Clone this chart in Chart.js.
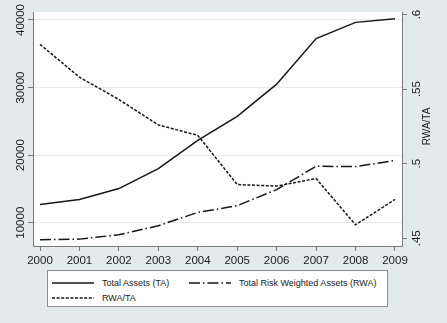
<!DOCTYPE html>
<html>
<head>
<meta charset="utf-8">
<script src="https://cdn.jsdelivr.net/npm/chart.js@4/dist/chart.umd.min.js"></script>
<style>
  body { margin: 0; background: #e2eaec; }
  #wrap { position: relative; width: 447px; height: 323px; }
  #chart { position: absolute; left: 0; top: 0; }
  #legend {
    position: absolute; left: 47px; top: 270px; width: 341px; height: 37px;
    box-sizing: border-box; border: 1px solid #8c8c8c; background: #fff;
    padding: 4px 0 0 4px;
    display: grid; grid-template-columns: 137px auto; grid-auto-rows: 15px;
    font: 9px "Liberation Sans", Arial, sans-serif; color: #1a1a1a;
  }
  #legend .item { display: flex; align-items: center; white-space: nowrap; }
  #legend svg { margin-right: 8px; }
</style>
</head>
<body>
<div id="wrap">
  <canvas id="chart" width="447" height="323"></canvas>
  <div id="legend"></div>
</div>
<script>
// Data
const years = [2000, 2001, 2002, 2003, 2004, 2005, 2006, 2007, 2008, 2009];
const totalAssets = [12700, 13450, 15050, 18000, 22200, 25750, 30500, 37250, 39650, 40200];
const riskWeighted = [7480, 7570, 8220, 9550, 11530, 12520, 14900, 18350, 18300, 19200];
const rwaRatio = [0.580, 0.558, 0.543, 0.526, 0.519, 0.486, 0.485, 0.490, 0.459, 0.476];

const leftTicks = [10000, 20000, 30000, 40000];
const rightTicks = [0.45, 0.5, 0.55, 0.6];
const rightTickLabels = ['.45', '.5', '.55', '.6'];

Chart.defaults.font.family = '"Liberation Sans", Arial, sans-serif';
Chart.defaults.color = '#1a1a1a';

const lineColor = '#161616';
const axisColor = '#7a7a7a';

function points(values) {
    return years.map((yr, i) => ({ x: yr, y: values[i] }));
}

// White plot region and the right axis title (reads bottom to top, like the left labels)
const plotRegion = {
    id: 'plotRegion',
    beforeDraw(chart) {
        const { ctx, chartArea: a } = chart;
        ctx.save();
        ctx.fillStyle = '#ffffff';
        ctx.fillRect(a.left, a.top, a.right - a.left, a.bottom - a.top);
        ctx.restore();
    },
    afterDraw(chart) {
        const ctx = chart.ctx;
        const s = chart.scales.y1;
        ctx.save();
        ctx.translate(s.left + 25, s.getPixelForValue(0.525));
        ctx.rotate(-Math.PI / 2);
        ctx.textAlign = 'center';
        ctx.textBaseline = 'middle';
        ctx.fillStyle = '#1a1a1a';
        ctx.font = '10px "Liberation Sans", Arial, sans-serif';
        ctx.fillText('RWA/TA', 0, 0);
        ctx.restore();
    }
};

const chart = new Chart(document.getElementById('chart'), {
    type: 'line',
    data: {
        datasets: [{
            label: 'Total Assets (TA)',
            data: points(totalAssets),
            yAxisID: 'y',
            borderColor: lineColor,
            borderWidth: 1.5,
            borderDash: []
        }, {
            label: 'Total Risk Weighted Assets (RWA)',
            data: points(riskWeighted),
            yAxisID: 'y',
            borderColor: lineColor,
            borderWidth: 1.5,
            borderDash: [11, 3, 1.5, 3]
        }, {
            label: 'RWA/TA',
            data: points(rwaRatio),
            yAxisID: 'y1',
            borderColor: lineColor,
            borderWidth: 1.5,
            borderDash: [3, 1.6]
        }]
    },
    options: {
        responsive: false,
        animation: false,
        devicePixelRatio: 1,
        layout: { padding: { top: 12 } },
        elements: { point: { radius: 0 }, line: { tension: 0 } },
        plugins: {
            legend: { display: false },
            tooltip: { enabled: false }
        },
        scales: {
            x: {
                type: 'linear',
                min: 1999.8225,
                max: 2009.1775,
                afterBuildTicks: s => { s.ticks = years.map(v => ({ value: v })); },
                afterFit: s => { s.height = 77; },
                ticks: {
                    callback: v => String(v),
                    font: { size: 11.5 },
                    padding: 3,
                    maxRotation: 0
                },
                grid: { drawOnChartArea: false, tickLength: 5, tickColor: axisColor },
                border: { color: axisColor }
            },
            y: {
                position: 'left',
                min: 6552,
                max: 41184,
                afterBuildTicks: s => { s.ticks = leftTicks.map(v => ({ value: v })); },
                afterFit: s => { s.width = 33; },
                ticks: {
                    callback: v => String(v),
                    font: { size: 11.5 },
                    minRotation: 90,
                    maxRotation: 90,
                    crossAlign: 'center',
                    padding: -9
                },
                grid: { color: '#e6eaeb', tickLength: 5, tickColor: axisColor },
                border: { color: axisColor }
            },
            y1: {
                position: 'right',
                min: 0.4448,
                max: 0.6017,
                afterBuildTicks: s => { s.ticks = rightTicks.map(v => ({ value: v })); },
                afterFit: s => { s.width = 45; },
                ticks: {
                    callback: v => rightTickLabels[rightTicks.indexOf(v)],
                    font: { size: 11.5 },
                    minRotation: 90,
                    maxRotation: 90,
                    crossAlign: 'center',
                    padding: 2
                },
                grid: { drawOnChartArea: false, tickLength: 5, tickColor: axisColor },
                border: { color: axisColor }
            }
        }
    },
    plugins: [plotRegion]
});

// Legend box below the plot, built from the datasets
const legendOrder = [0, 1, 2];
document.getElementById('legend').innerHTML = legendOrder.map(i => {
    const ds = chart.data.datasets[i];
    return `<div class="item">
        <svg width="42" height="6"><line x1="0" y1="3" x2="42" y2="3" stroke="${ds.borderColor}"
            stroke-width="1.3" stroke-dasharray="${ds.borderDash.join(' ')}"/></svg>
        <span>${ds.label}</span>
    </div>`;
}).join('');
</script>
</body>
</html>
